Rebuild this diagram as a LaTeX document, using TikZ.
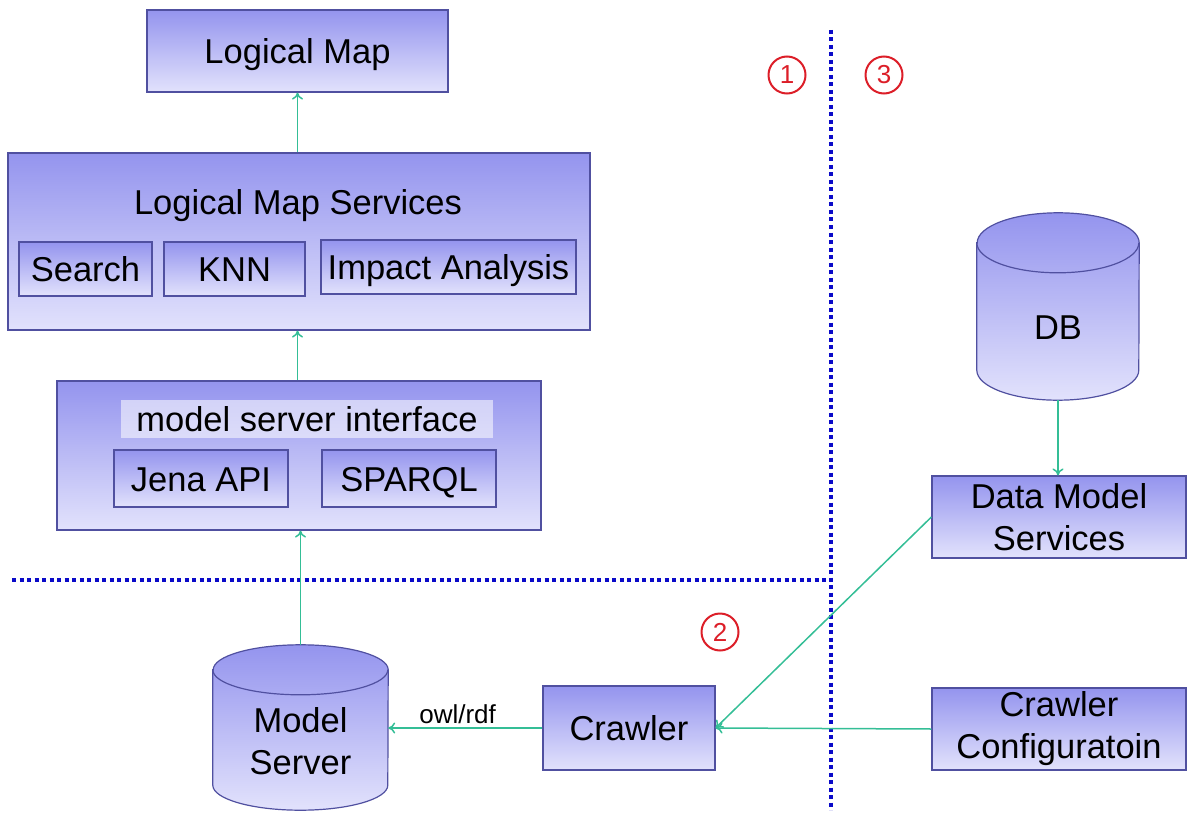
\documentclass[tikz,border=0pt]{standalone}
\usepackage{fontspec}
\setmainfont{Liberation Sans}
\usepackage{tikz}
\usetikzlibrary{arrows.meta}

\definecolor{boxtop}{RGB}{148,148,238}
\definecolor{boxbot}{RGB}{226,226,252}
\definecolor{boxline}{RGB}{80,80,160}
\definecolor{linkgreen}{RGB}{52,190,150}
\definecolor{sepblue}{RGB}{10,10,200}
\definecolor{markred}{RGB}{220,30,40}

\tikzset{
  boxshade/.style={draw=boxline, line width=1.2pt, top color=boxtop, bottom color=boxbot},
  box/.style={boxshade, inner sep=0pt, font=\fontsize{34.5}{42}\selectfont, align=center},
  oneline/.style={text height=30pt, text depth=5pt},
  drum/.style={inner sep=0pt},
  cyltext/.style={font=\fontsize{34.5}{42}\selectfont, align=center},
  link/.style={draw=linkgreen, line width=1.5pt, -{To[length=7pt,width=11pt]}},
  sep/.style={draw=sepblue, line width=4pt, dash pattern=on 4pt off 3.5pt},
  num/.style={circle, draw=markred, line width=2pt, minimum size=37pt, inner sep=0pt,
    text=markred, font=\fontsize{26}{26}\selectfont}
}

% cylinder round a named node: #1 node, #2 half width, #3 ellipse radius
\newcommand\drumshape[3]{%
  \draw[boxshade] ([yshift=-#3]#1.north west) -- ([yshift=#3]#1.south west)
    arc[start angle=180, end angle=360, x radius=#2, y radius=#3]
    -- ([yshift=-#3]#1.north east)
    arc[start angle=0, end angle=180, x radius=#2, y radius=#3] -- cycle;
  \draw[draw=boxline, line width=1.2pt] ([yshift=-#3]#1.north west)
    arc[start angle=180, end angle=360, x radius=#2, y radius=#3];
}

\begin{document}
\begin{tikzpicture}[x=1pt,y=-1pt]
\useasboundingbox (0,0) rectangle (1188,813);

% left column
\node[box, oneline, minimum width=301pt, minimum height=82pt] (lm) at (297.5,51) {Logical Map};

\node[box, minimum width=582pt, minimum height=177pt] (lms) at (299,241.5) {};
\node[oneline, font=\fontsize{34.5}{42}\selectfont] (lmsTitle) at (298,202) {Logical Map Services};
\node[box, oneline, minimum width=133pt, minimum height=54pt] (search) at (85.5,269) {Search};
\node[box, oneline, minimum width=141pt, minimum height=54pt] (knn) at (234.5,269) {KNN};
\node[box, oneline, minimum width=255pt, minimum height=54pt] (impact) at (448.5,267) {Impact Analysis};

\node[box, minimum width=484pt, minimum height=149pt] (msi) at (299,455.5) {};
\node[fill=white, fill opacity=0.55, text opacity=1, oneline, minimum width=372pt, minimum height=38pt,
  inner sep=0pt, font=\fontsize{34.5}{42}\selectfont] (msiTitle) at (307,419) {model server interface};
\node[box, oneline, minimum width=174pt, minimum height=57pt] (jena) at (201,478.5) {Jena API};
\node[box, oneline, minimum width=174pt, minimum height=57pt] (sparql) at (409,478.5) {SPARQL};

\node[drum, minimum width=175pt, minimum height=165pt] (ms) at (300.5,727.5) {};
\drumshape{ms}{87.5pt}{25pt}
\node[cyltext] (msText) at (300.5,741) {Model\\Server};
\node[box, oneline, minimum width=172pt, minimum height=84pt] (crawler) at (629,728) {Crawler};

% right column
\node[drum, minimum width=162pt, minimum height=187pt] (db) at (1058,306.5) {};
\drumshape{db}{81pt}{30pt}
\node[cyltext] (dbText) at (1058,328) {DB};
\node[box, minimum width=254pt, minimum height=82pt] (dms) at (1059,517) {Data Model\\Services};
\node[box, minimum width=254pt, minimum height=82pt] (cc) at (1059,729) {Crawler\\Configuratoin};

% separators
\coordinate (hsL) at (12,580);
\coordinate (hsR) at (831,580);
\coordinate (vsT) at (831,30);
\coordinate (vsB) at (831,810);
\draw[sep] (hsL) -- (hsR);
\draw[sep] (vsT) -- (vsB);

\node[num] (n1) at (787,75) {1};
\node[num] (n3) at (884,75) {3};
\node[num] (n2) at (720,632) {2};

% links
\draw[link] (lm.south |- lms.north) -- (lm.south);
\draw[link] (lm.south |- msi.north) -- (lm.south |- lms.south);
\draw[link] (ms.north) -- (ms.north |- msi.south);
\draw[link] (db.south) -- (db.south |- dms.north);
\draw[link] (dms.west) -- (crawler.east);
\draw[link] (cc.west) -- (crawler.east);
\draw[link] (crawler.west) -- node[pos=0.55, above, font=\fontsize{26}{28}\selectfont] (owl) {owl/rdf} (crawler.west -| ms.east);
\end{tikzpicture}
\end{document}
